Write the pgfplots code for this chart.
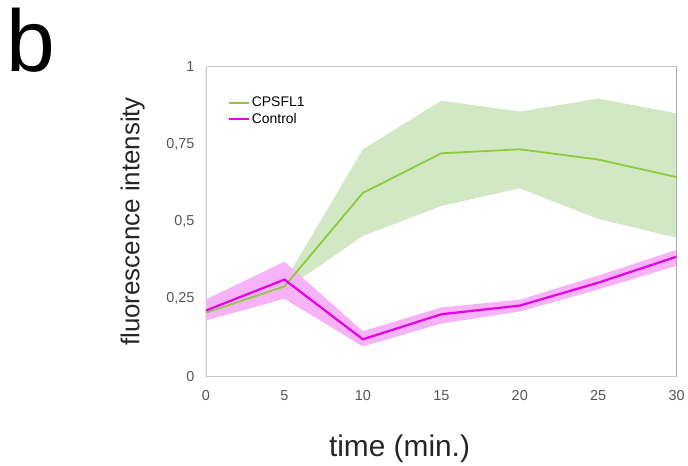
\documentclass[border=0pt]{standalone}
\usepackage{fontspec}
\setmainfont{Liberation Sans}
\usepackage{pgfplots}
\pgfplotsset{compat=1.18}
\usepgfplotslibrary{fillbetween}

\definecolor{cpgreen}{HTML}{8CCB3C}
\definecolor{cpgreenband}{HTML}{D2E7C4}
\definecolor{ctmag}{HTML}{E600E6}
\definecolor{ctband}{HTML}{F7B3F7}
\definecolor{ticktxt}{HTML}{555555}

\begin{document}
\begin{tikzpicture}
\begin{axis}[
    scale only axis,
    width=473pt, height=311pt,
    at={(0,0)}, anchor=south west,
    xmin=0, xmax=30, ymin=0, ymax=1,
    xtick={0,5,10,15,20,25,30},
    ytick={0,0.25,0.5,0.75,1},
    yticklabels={0,{0,25},{0,5},{0,75},1},
    major tick length=0pt,
    tick label style={font=\fontsize{14.5}{17}\selectfont, text=ticktxt},
    /pgf/number format/assume math mode=true,
    xticklabel style={yshift=-11pt},
    yticklabel style={xshift=-8pt},
    axis line style={draw=black!22},
    xlabel={time (min.)},
    ylabel={fluorescence intensity},
    xlabel style={font=\fontsize{30}{34}\selectfont, text=black!85, yshift=-27pt, xshift=-42pt},
    ylabel style={font=\fontsize{26}{30}\selectfont, text=black!85, yshift=15pt},
    legend style={draw=none, fill=none, at={(0.04,0.915)}, anchor=north west,
        font=\fontsize{14}{16}\selectfont, row sep=1pt},
    legend cell align=left,
    legend image code/.code={\draw[#1, line width=2pt] (0pt,0pt) -- (20pt,0pt);},
]
% CPSFL1 band
\addplot[name path=gu, draw=none, forget plot] coordinates {
    (0,0.222) (5,0.305) (10,0.733) (15,0.89) (20,0.855) (25,0.897) (30,0.849)};
\addplot[name path=gl, draw=none, forget plot] coordinates {
    (0,0.19) (5,0.278) (10,0.453) (15,0.55) (20,0.607) (25,0.508) (30,0.447)};
\addplot[cpgreenband, forget plot] fill between[of=gu and gl];
% Control band
\addplot[name path=cu, draw=none, forget plot] coordinates {
    (0,0.248) (5,0.37) (10,0.145) (15,0.222) (20,0.247) (25,0.325) (30,0.408)};
\addplot[name path=cl, draw=none, forget plot] coordinates {
    (0,0.18) (5,0.25) (10,0.096) (15,0.17) (20,0.209) (25,0.28) (30,0.357)};
\addplot[ctband, forget plot] fill between[of=cu and cl];
% means
\addplot[cpgreen, line width=1.8pt] coordinates {
    (0,0.205) (5,0.29) (10,0.592) (15,0.72) (20,0.733) (25,0.70) (30,0.643)};
\addlegendentry{CPSFL1}
\addplot[ctmag, line width=2.2pt] coordinates {
    (0,0.212) (5,0.312) (10,0.119) (15,0.20) (20,0.228) (25,0.302) (30,0.386)};
\addlegendentry{Control}
\draw[black!40, line width=1pt] (rel axis cs:0,0) -- (rel axis cs:0,1);
\draw[black!40, line width=1pt] (rel axis cs:1,0) -- (rel axis cs:1,1);
\end{axis}
\node[anchor=north west, inner sep=0pt, font=\fontsize{88}{96}\selectfont] at (-201pt,370pt) {b};
\useasboundingbox (-207pt,-83pt) rectangle (481pt,378pt);
\end{tikzpicture}
\end{document}
